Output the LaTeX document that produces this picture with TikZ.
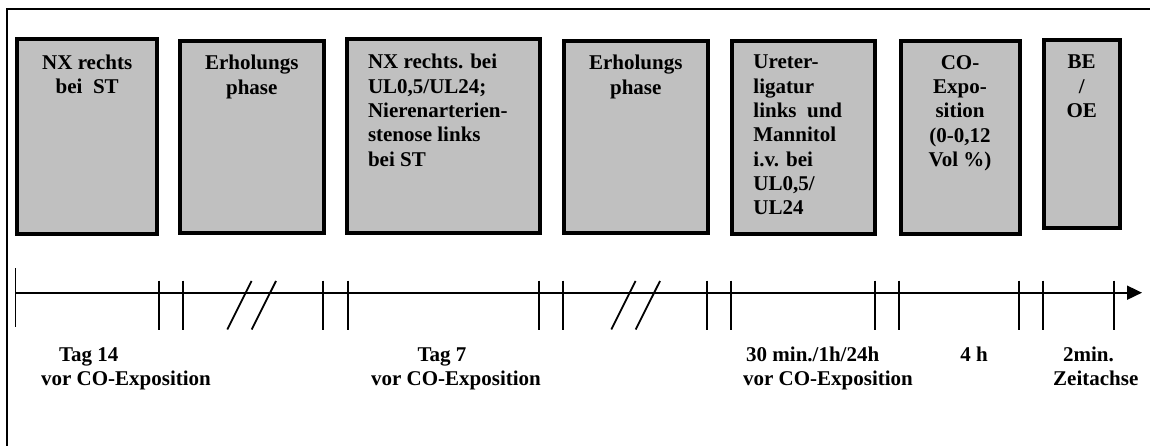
\documentclass[tikz,border=0pt]{standalone}
\usepackage{fontspec}
\setmainfont{Liberation Serif}
\usetikzlibrary{arrows.meta,positioning}
\definecolor{phasegray}{HTML}{C0C0C0}

\begin{document}
\begin{tikzpicture}[x=1pt,y=-1pt,
    font=\fontsize{21}{24.3}\selectfont\bfseries,
    phase/.style={draw,line width=4pt,fill=phasegray,inner sep=0pt},
    ctxt/.style={inner sep=0pt,align=center,execute at begin node=\strut},
    ltxt/.style={inner sep=0pt,align=left,execute at begin node=\strut},
    tickline/.style={line width=1.8pt},
    lbl/.style={inner sep=0pt,anchor=base}]
  \useasboundingbox (0,0) rectangle (1150,446);
  \draw[line width=2pt] (6.7,446) |- (1150,9.3);

  \node[phase,minimum width=140,minimum height=195] (nx1) at (87.2,137) {};
  \node[phase,minimum width=144,minimum height=192] (erh1) at (251.8,137) {};
  \node[phase,minimum width=193,minimum height=194] (nx2) at (443.3,136.2) {};
  \node[phase,minimum width=144,minimum height=192] (erh2) at (635.8,137) {};
  \node[phase,minimum width=143,minimum height=193] (ul) at (803.7,137.5) {};
  \node[phase,minimum width=119,minimum height=193] (co) at (960,137.5) {};
  \node[phase,minimum width=76,minimum height=188] (be) at (1081.7,134) {};

  \node[ctxt,below=17pt of nx1.north] (nx1t) {NX rechts\\bei~~ST};
  \node[ctxt,below=16pt of erh1.north] (erh1t) {Erholungs\\phase};
  \node[ltxt,below right=17pt and 23pt of nx2.north west] (nx2t)
    {NX rechts. bei\\UL0,5/UL24;\\Nierenarterien-\\stenose links\\bei ST};
  \node[ctxt,below=16pt of erh2.north] (erh2t) {Erholungs\\phase};
  \node[ltxt,below right=16pt and 23pt of ul.north west] (ult)
    {Ureter-\\ligatur\\links~~und\\Mannitol\\i.v. bei\\UL0,5/\\UL24};
  \node[ctxt,below=16pt of co.north] (cot) {CO-\\Expo-\\sition\\(0-0,12\\Vol \%)};
  \node[ctxt,below=17pt of be.north] (bet) {BE\\/\\OE};

  \coordinate (t0) at (15.5,292.7);
  \coordinate (tend) at (1142,292.7);
  \draw[tickline,-{Triangle[length=15pt,width=14pt]}] (t0) -- (tend);
  \draw[tickline] (15.5,268.3) -- (15.5,326.7);
  \foreach \x in {159.3,183.3,323.3,347.7,538.7,562.7,707.3,731.3,875.2,898.8,1019,1042.7,1114.3}
    \draw[tickline] (\x,280.5) -- (\x,329.5);
  \foreach \x in {227.3,251.7,611.3,635.7}
    \draw[tickline] (\x,329.5) -- ++(24.3,-48.5);

  \node[lbl] (tag14) at (88.7,361.7) {Tag 14};
  \node[lbl] (tag14v) at (126,385) {vor CO-Exposition};
  \node[lbl] (tag7) at (442,361.7) {Tag 7};
  \node[lbl] (tag7v) at (456,385) {vor CO-Exposition};
  \node[lbl] (min30) at (812.7,361.7) {30 min./1h/24h};
  \node[lbl] (min30v) at (828,385) {vor CO-Exposition};
  \node[lbl] (h4) at (974,361.7) {4 h};
  \node[lbl] (min2) at (1088.5,361.7) {2min.};
  \node[lbl] (zeit) at (1095.8,385) {Zeitachse};
\end{tikzpicture}
\end{document}
